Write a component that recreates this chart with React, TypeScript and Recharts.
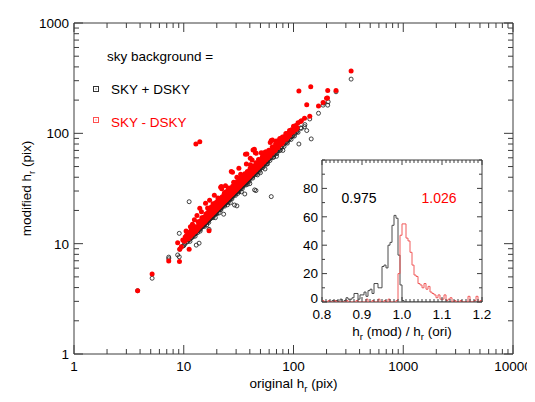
import React from 'react';
import { ScatterChart, Scatter, XAxis, YAxis, ReferenceArea, LineChart, Line } from 'recharts';

const FONT = '"Liberation Sans", Arial, Helvetica, sans-serif';
const AXIS_COLOR = '#3c3c3c';
const RED = '#ff0000';

// ---------- main panel axes ----------
const xMajorTicks = [1, 10, 100, 1000, 10000];
const xMinorTicks = [2, 3, 4, 5, 6, 7, 8, 9, 20, 30, 40, 50, 60, 70, 80, 90, 200, 300, 400, 500, 600, 700, 800, 900, 2000, 3000, 4000, 5000, 6000, 7000, 8000, 9000];
const yMajorTicks = [1, 10, 100, 1000];
const yMinorTicks = [2, 3, 4, 5, 6, 7, 8, 9, 20, 30, 40, 50, 60, 70, 80, 90, 200, 300, 400, 500, 600, 700, 800, 900];

// ---------- scatter data: [original h_r, modified h_r] ----------
// sky background = SKY + DSKY (open black circles)
const skyPlusPoints: [number, number][] = [
  [3.8, 3.75], [5.15, 4.86], [7.3, 7.55], [7.3, 7.3], [9.1, 7.6], [8.8, 7.9], [9.1, 12.4], [9.2, 8.9],
  [11.2, 24.0], [13.0, 9.7], [13.8, 10.1], [17.0, 13.5], [19.4, 17.2], [23.1, 18.5], [26.6, 23.5],
  [29.0, 22.4], [30.5, 22.0], [36.0, 28.2], [44.2, 30.7], [45.5, 30.3], [62.7, 26.7], [33.5, 29.5],
  [40.0, 35.0], [50.0, 44.0], [55.0, 47.5], [70.0, 62.0], [80.0, 70.0], [97.6, 94.7], [112, 80],
  [145, 89], [126, 115], [127, 120], [132, 106], [107, 107], [169, 152], [205, 180], [207, 193],
  [188, 188], [116, 112], [106, 103], [96, 93.5], [89, 86.5], [86, 83.8], [140.7, 135], [186, 180],
  [244, 238], [335, 310], [10.0, 9.6], [9.8, 9.5], [16.2, 14.8], [21.0, 19.0], [25.0, 22.5],
  [31.0, 28.5], [38.0, 34.5], [47.0, 42.0], [58.0, 53.0], [66.0, 61.0], [75.0, 70.0],
  [11.4, 10.5], [12.7, 11.7], [14.1, 13.0], [15.4, 14.3], [16.9, 15.6], [18.5, 17.2], [20.1, 18.7],
  [21.8, 20.3], [23.6, 21.9], [25.5, 23.7], [27.5, 25.5], [29.6, 27.4], [31.8, 29.6], [34.2, 31.6],
  [36.8, 34.0], [39.5, 36.7], [42.5, 39.3], [45.7, 42.5], [49.0, 45.3], [52.7, 49.0], [56.7, 52.5],
  [61.0, 56.7], [65.5, 60.6], [70.5, 65.5], [76.0, 70.5], [82.0, 76.0], [88.0, 81.5], [95.0, 88.0],
  [102, 94.5], [110, 102], [118, 111],
  [10.2, 9.9], [10.5, 10.3], [10.8, 10.4], [11.0, 10.8], [11.3, 10.9], [11.5, 11.2], [11.8, 11.3],
  [12.0, 11.8], [12.2, 11.6], [12.4, 12.1], [12.6, 12.3], [12.8, 12.3], [13.0, 12.7], [13.2, 12.9],
  [13.4, 12.6], [13.6, 13.3], [13.8, 13.4], [14.0, 13.7], [14.2, 13.5], [14.4, 14.0], [14.5, 14.2],
  [14.7, 14.3], [14.8, 14.5], [14.9, 14.4], [15.0, 14.7], [15.1, 14.8], [15.2, 14.6], [15.3, 15.0],
  [15.5, 15.1], [15.6, 15.3], [15.7, 15.2], [15.8, 15.5], [16.0, 15.5], [16.1, 15.8], [16.2, 15.7],
  [16.3, 16.0], [16.5, 16.1], [16.6, 15.9], [16.7, 16.3], [16.8, 16.5], [17.0, 16.6], [17.1, 16.7],
  [17.2, 16.9], [17.4, 17.0], [17.5, 16.8], [17.6, 17.2], [17.8, 17.4], [17.9, 17.5], [18.0, 17.6],
  [18.2, 17.8], [18.3, 17.6], [18.4, 18.0], [18.6, 18.2], [18.7, 18.3], [18.8, 18.1], [19.0, 18.6],
  [19.1, 18.7], [19.2, 18.5], [19.3, 18.9], [19.4, 19.0], [19.6, 19.2], [19.7, 19.3], [19.8, 19.0],
  [19.9, 19.5], [20.0, 19.6], [20.2, 19.8], [20.4, 19.9], [20.5, 20.1], [20.7, 20.2], [20.9, 20.4],
  [21.0, 20.6], [21.2, 20.7], [21.4, 20.6], [21.5, 21.1], [21.7, 21.2], [21.9, 21.4], [22.0, 21.6],
  [22.2, 21.3], [22.4, 21.9], [22.5, 22.0], [22.7, 22.2], [22.9, 22.4], [23.0, 22.5], [23.2, 22.3],
  [23.4, 22.9], [23.5, 23.0], [23.7, 23.2], [23.9, 23.4], [24.0, 23.5], [24.2, 23.2], [24.4, 23.9],
  [24.6, 24.1], [24.8, 24.3], [25.0, 24.4], [25.2, 24.7], [25.4, 24.4], [25.6, 25.0], [25.8, 25.3],
  [26.0, 25.4], [26.2, 25.7], [26.4, 25.3], [26.6, 26.0], [26.8, 26.3], [27.0, 26.4], [27.2, 26.7],
  [27.4, 26.3], [27.6, 27.0], [27.8, 27.2], [28.0, 27.4], [28.2, 27.6], [28.4, 27.3], [28.6, 28.0],
  [28.8, 28.2], [29.0, 28.4], [29.2, 28.6], [29.4, 28.2], [29.6, 29.0], [29.8, 29.2], [30.0, 29.4],
  [30.3, 29.7], [30.6, 29.9], [30.9, 30.3], [31.2, 30.0], [31.5, 30.8], [31.8, 31.1], [32.1, 31.4],
  [32.4, 31.1], [32.7, 32.0], [33.0, 32.3], [33.3, 32.6], [33.6, 32.3], [33.9, 33.2], [34.2, 33.5],
  [34.5, 33.1], [34.8, 34.1], [35.1, 34.4], [35.4, 34.0], [35.7, 35.0], [36.0, 35.3], [36.3, 35.6],
  [36.6, 35.1], [36.9, 36.2], [37.2, 36.5], [37.5, 36.8], [37.8, 36.3], [38.1, 37.3], [38.4, 37.6],
  [38.7, 37.9], [39.0, 37.4], [39.3, 38.5], [39.6, 38.8], [39.9, 39.1], [40.4, 39.6], [41.0, 40.2],
  [41.6, 40.0], [42.2, 41.4], [42.8, 41.9], [43.4, 41.7], [44.0, 43.1], [44.6, 43.7], [45.2, 43.4],
  [45.8, 44.9], [46.4, 45.5], [47.0, 45.1], [47.6, 46.6], [48.2, 47.2], [48.8, 46.8], [49.4, 48.4],
  [50.0, 49.0], [50.8, 48.8], [51.6, 50.6], [52.4, 51.4], [53.2, 51.1], [54.0, 52.9], [54.8, 53.7],
  [55.6, 53.4], [56.4, 55.3], [57.2, 56.1], [58.0, 55.7], [58.8, 57.6], [59.6, 58.4], [61.0, 59.8],
  [62.5, 60.0], [64.0, 62.7], [65.5, 64.2], [67.0, 64.3], [68.5, 67.1], [70.0, 68.6], [72.0, 69.1],
  [74.0, 72.5], [76.0, 74.5], [78.0, 74.9], [80.0, 78.4], [83.0, 81.3], [86.0, 82.6], [89.0, 87.2],
  [92.0, 89.2], [95.0, 93.1], [99.0, 95.0], [103, 100], [108, 104],
];

// sky background = SKY - DSKY (filled red circles)
const skyMinusPoints: [number, number][] = [
  [3.8, 3.75], [5.15, 5.31], [7.3, 6.97], [9.14, 6.9], [8.8, 10.2], [9.5, 9.4], [9.2, 8.9], [11.2, 8.9],
  [12.9, 80.2], [14.0, 84.1], [17.0, 13.1], [335, 368], [112, 242], [143.6, 265], [205, 244], [244, 244],
  [132, 182], [169, 177], [186, 190], [204, 209], [200, 208], [140.7, 143], [126, 137], [116, 128],
  [106, 109], [107, 111], [96, 103.6], [89, 96.7], [86, 98], [62.7, 85.9], [69.5, 85], [61.4, 82.4],
  [64.2, 87.1], [44, 71.6], [42.8, 70.7], [44.9, 66.8], [45.7, 65.9], [40.4, 59.5], [36.5, 64.6],
  [37.6, 65], [37.2, 52.8], [40.4, 52.0], [42, 57.4], [50.8, 66.8], [53.8, 66.8], [27.1, 45],
  [27.8, 44.4], [31.8, 48.2], [15.8, 23.2], [14, 20.9], [21.7, 32.5], [22.2, 31.5], [22, 33],
  [12.5, 16.5], [13.2, 18.0], [14.5, 19.5], [16.5, 21.0], [17.2, 24.8], [18.5, 23.0], [19.0, 27.5],
  [20.5, 26.0], [23.5, 29.0], [24.0, 33.5], [25.5, 32.0], [28.5, 36.0], [30.5, 40.0], [33.0, 42.5],
  [48, 58], [56, 68], [75, 90], [10.5, 13.0], [11.5, 14.2], [12.0, 15.0], [9.8, 10.8], [10.0, 10.6],
  [10.3, 11.5], [17.5, 20.5], [19.5, 23.5], [21.0, 25.5], [24.5, 29.5], [26.0, 31.5], [29.0, 34.5],
  [32.5, 38.5], [35.0, 41.0], [38.0, 44.5], [46, 53], [52, 60], [58, 66], [66, 75], [72, 81],
  [80, 90], [90, 100],
  [10.6, 11.9], [11.1, 12.6], [11.7, 13.4], [12.3, 14.3], [12.9, 14.2], [13.5, 15.8], [14.1, 16.0],
  [14.6, 17.2], [15.2, 17.4], [15.9, 18.6], [16.4, 18.9], [16.9, 20.2], [17.3, 19.6], [17.8, 21.5],
  [18.1, 20.5], [18.5, 21.9], [18.9, 21.3], [19.5, 22.8], [19.9, 22.3], [20.3, 24.2], [20.8, 23.5],
  [21.3, 25.6], [21.8, 24.6], [22.3, 26.5], [22.8, 25.8], [23.3, 28.0], [23.8, 26.9], [24.3, 29.4],
  [24.9, 28.1], [25.5, 30.6], [26.1, 29.5], [26.7, 32.0], [27.3, 30.9], [27.9, 33.2], [28.6, 32.3],
  [29.3, 35.0], [30.0, 33.9], [30.8, 36.6], [31.6, 35.7], [32.4, 38.9], [33.2, 37.5], [34.1, 40.6],
  [35.0, 39.5], [36.0, 43.0], [37.0, 41.8], [38.0, 45.2], [39.1, 44.2], [40.2, 47.9], [41.5, 46.9],
  [42.8, 50.5], [44.0, 49.7], [45.5, 54.0], [47.0, 53.1], [48.6, 57.4], [50.2, 56.7], [52.0, 61.2],
  [53.8, 60.8], [55.7, 65.5], [57.6, 65.1], [59.6, 70.3], [61.7, 69.7], [64.0, 75.0], [66.3, 74.9],
  [68.7, 80.4], [71.2, 80.5], [73.8, 86.3], [76.5, 86.4], [79.3, 92.8], [82.2, 92.9], [85.2, 99.5],
  [88.3, 99.8], [92, 106], [96, 108], [100, 116], [105, 118], [110, 125], [118, 130],
  [10.2, 10.5], [10.5, 10.9], [10.8, 11.3], [11.0, 11.1], [11.3, 11.8], [11.5, 11.7], [11.8, 12.4],
  [12.0, 12.2], [12.2, 13.3], [12.4, 12.7], [12.6, 13.1], [12.8, 12.9], [13.0, 13.5], [13.2, 13.4],
  [13.4, 14.2], [13.6, 13.9], [13.8, 14.9], [14.0, 14.3], [14.2, 14.6], [14.4, 15.4], [14.5, 14.8],
  [14.7, 15.2], [14.8, 16.0], [14.9, 15.3], [15.0, 15.4], [15.1, 15.5], [15.2, 16.1], [15.3, 15.7],
  [15.5, 15.9], [15.6, 16.7], [15.7, 16.0], [15.8, 16.3], [16.0, 17.0], [16.1, 16.5], [16.2, 16.8],
  [16.3, 17.9], [16.5, 16.9], [16.6, 17.1], [16.7, 17.4], [16.8, 17.3], [17.0, 18.2], [17.1, 17.6],
  [17.2, 17.7], [17.4, 18.0], [17.5, 18.5], [17.6, 18.1], [17.8, 18.3], [17.9, 19.3], [18.0, 18.5],
  [18.2, 18.8], [18.3, 19.0], [18.4, 19.0], [18.6, 19.1], [18.7, 20.2], [18.8, 19.4], [19.0, 19.5],
  [19.1, 19.8], [19.2, 19.9], [19.3, 21.0], [19.4, 20.0], [19.6, 20.2], [19.7, 20.6], [19.8, 20.4],
  [19.9, 20.5], [20.0, 21.2], [20.2, 20.8], [20.4, 21.0], [20.5, 21.6], [20.7, 21.3], [20.9, 21.5],
  [21.0, 22.5], [21.2, 21.8], [21.4, 22.0], [21.5, 22.2], [21.7, 23.0], [21.9, 22.6], [22.0, 22.7],
  [22.2, 23.5], [22.4, 23.1], [22.5, 23.3], [22.7, 24.6], [22.9, 23.6], [23.0, 23.7], [23.2, 24.2],
  [23.4, 24.1], [23.5, 24.4], [23.7, 25.6], [23.9, 24.6], [24.0, 24.8], [24.2, 25.1], [24.4, 25.2],
  [24.6, 25.3], [24.8, 26.3], [25.0, 25.8], [25.2, 26.0], [25.4, 26.4], [25.6, 26.4], [25.8, 27.9],
  [26.0, 26.8], [26.2, 27.0], [26.4, 27.4], [26.6, 27.4], [26.8, 28.4], [27.0, 27.8], [27.2, 28.0],
  [27.4, 28.5], [27.6, 28.4], [27.8, 30.0], [28.0, 28.8], [28.2, 29.1], [28.4, 29.4], [28.6, 29.5],
  [28.8, 31.1], [29.0, 29.9], [29.2, 30.1], [29.4, 30.4], [29.6, 30.5], [29.8, 31.6], [30.0, 30.9],
  [30.3, 31.2], [30.6, 31.5], [30.9, 32.7], [31.2, 32.1], [31.5, 32.4], [31.8, 33.3], [32.1, 33.0],
  [32.4, 33.4], [32.7, 34.7], [33.0, 34.0], [33.3, 34.3], [33.6, 35.3], [33.9, 34.9], [34.2, 35.2],
  [34.5, 36.6], [34.8, 35.8], [35.1, 36.2], [35.4, 36.8], [35.7, 36.8], [36.0, 38.2], [36.3, 37.4],
  [36.6, 37.7], [36.9, 38.4], [37.2, 39.5], [37.5, 38.6], [37.8, 39.3], [38.1, 39.2], [38.4, 40.7],
  [38.7, 39.9], [39.0, 40.2], [39.3, 40.5], [39.6, 42.0], [39.9, 41.1], [40.4, 41.6], [41.0, 43.5],
  [41.6, 42.8], [42.2, 43.5], [42.8, 45.4], [43.4, 44.7], [44.0, 45.3], [44.6, 47.3], [45.2, 46.6],
  [45.8, 47.2], [46.4, 49.2], [47.0, 48.4], [47.6, 49.0], [48.2, 51.1], [48.8, 50.3], [49.4, 50.9],
  [50.0, 53.0], [50.8, 52.3], [51.6, 53.1], [52.4, 55.5], [53.2, 54.8], [54.0, 55.6], [54.8, 58.1],
  [55.6, 57.3], [56.4, 58.1], [57.2, 60.6], [58.0, 59.7], [58.8, 60.6], [59.6, 63.2], [61.0, 62.8],
  [62.5, 66.3], [64.0, 65.9], [65.5, 69.4], [67.0, 69.0], [68.5, 70.6], [70.0, 74.2], [72.0, 74.2],
  [74.0, 77.0], [76.0, 80.6], [78.0, 80.3], [80.0, 83.2], [83.0, 88.0], [86.0, 88.6], [89.0, 92.6],
  [92.0, 95.7], [95.0, 100.7], [99.0, 103.0], [103, 107], [108, 113],
];

// ---------- inset histogram of h_r(mod)/h_r(ori) ----------
const histStart = 0.8;
const histBinWidth = 0.005;
const ratioCountsPlus = [
  0, 0, 0, 0, 0, 1, 0, 1, 0, 2,
  0, 1, 3, 2, 2, 3, 6, 6, 2, 5,
  5, 7, 4, 8, 9, 6, 13, 13, 10, 10,
  25, 26, 24, 40, 42, 54, 61, 59, 33, 12,
  1, 0, 0, 0, 0, 0, 0, 0, 0, 0,
  0, 0, 0, 0, 0, 0, 0, 0, 0, 0,
  0, 0, 0, 0, 0, 0, 0, 0, 0, 0,
  0, 0, 0, 0, 0, 0, 0, 0, 0, 0,
];
const ratioCountsMinus = [
  1, 0, 0, 1, 0, 0, 1, 0, 0, 0,
  0, 0, 1, 0, 0, 0, 0, 1, 0, 0,
  0, 0, 2, 0, 0, 1, 0, 0, 2, 0,
  0, 1, 0, 2, 0, 0, 0, 1, 20, 47,
  55, 55, 45, 43, 35, 26, 19, 18, 13, 12,
  10, 13, 9, 11, 7, 6, 5, 3, 5, 2,
  2, 5, 1, 2, 3, 0, 1, 0, 0, 1,
  0, 0, 0, 4, 0, 0, 1, 4, 0, 1,
];
const insetXMajor = [0.8, 0.9, 1.0, 1.1, 1.2];
const insetYTicks = [0, 10, 20, 30, 40, 50, 60, 70, 80, 90, 100];
const insetYLabels = [0, 20, 40, 60, 80];
const meanPlusLabel = '0.975';
const meanMinusLabel = '1.026';

// ---------- layout ----------
const MAIN_W = 439; // plot width  (74 .. 513)
const MAIN_H = 331; // plot height (23 .. 354)
const INSET_W = 160;
const INSET_H = 142;

const plusData = skyPlusPoints.map(([x, y]) => ({ x, y }));
const minusData = skyMinusPoints.map(([x, y]) => ({ x, y }));
const insetRows = ratioCountsPlus.map((c, i) => ({
  r: +(histStart + i * histBinWidth).toFixed(3),
  plus: c,
  minus: ratioCountsMinus[i],
}));
insetRows.push({ r: 1.2, plus: ratioCountsPlus[ratioCountsPlus.length - 1], minus: ratioCountsMinus[ratioCountsMinus.length - 1] });
const insetXTicks = Array.from({ length: 41 }, (_, i) => +(0.8 + i * 0.01).toFixed(2));

const textStyle = { fontFamily: FONT, fontSize: 13.5, fill: '#000' };

function MainXTick(props: any) {
  const { x, y, payload } = props;
  const v = payload.value;
  const major = xMajorTicks.includes(v);
  const len = major ? 9 : 5;
  return (
    <g>
      <line x1={x} x2={x} y1={y} y2={y - len} stroke={AXIS_COLOR} strokeWidth={1} />
      <line x1={x} x2={x} y1={y - MAIN_H} y2={y - MAIN_H + len} stroke={AXIS_COLOR} strokeWidth={1} />
      {major && (
        <text x={x} y={y + 17} textAnchor="middle" {...textStyle}>{v}</text>
      )}
    </g>
  );
}

function MainYTick(props: any) {
  const { x, y, payload } = props;
  const v = payload.value;
  const major = yMajorTicks.includes(v);
  const len = major ? 9 : 5;
  return (
    <g>
      <line x1={x} x2={x + len} y1={y} y2={y} stroke={AXIS_COLOR} strokeWidth={1} />
      <line x1={x + MAIN_W} x2={x + MAIN_W - len} y1={y} y2={y} stroke={AXIS_COLOR} strokeWidth={1} />
      {major && (
        <text x={x - 5} y={y} dy="0.36em" textAnchor="end" {...textStyle}>{v}</text>
      )}
    </g>
  );
}

function InsetXTick(props: any) {
  const { x, y, payload } = props;
  const v = payload.value;
  const major = insetXMajor.some((m) => Math.abs(m - v) < 1e-6);
  const len = major ? 5 : 3;
  return (
    <g>
      <line x1={x} x2={x} y1={y} y2={y - len} stroke={AXIS_COLOR} strokeWidth={1} />
      <line x1={x} x2={x} y1={y - INSET_H} y2={y - INSET_H + len} stroke={AXIS_COLOR} strokeWidth={1} />
      {major && (
        <text x={x} y={y + 17} textAnchor="middle" {...textStyle}>{v.toFixed(1)}</text>
      )}
    </g>
  );
}

function InsetYTick(props: any) {
  const { x, y, payload } = props;
  const v = payload.value;
  const labelled = insetYLabels.includes(v);
  const len = labelled ? 5 : 3;
  return (
    <g>
      <line x1={x} x2={x + len} y1={y} y2={y} stroke={AXIS_COLOR} strokeWidth={1} />
      <line x1={x + INSET_W} x2={x + INSET_W - len} y1={y} y2={y} stroke={AXIS_COLOR} strokeWidth={1} />
      {labelled && (
        <text x={x - 4} y={v === 0 ? y - 4 : y} dy="0.36em" textAnchor="end" {...textStyle}>{v}</text>
      )}
    </g>
  );
}

const openCircle = (p: any) => (
  <circle cx={p.cx} cy={p.cy} r={2.0} fill="none" stroke="#222" strokeWidth={0.85} />
);
const filledCircle = (p: any) => <circle cx={p.cx} cy={p.cy} r={2.5} fill={RED} stroke="none" />;

function LegendSquare({ x, y, color }: { x: number; y: number; color: string }) {
  return (
    <g>
      <rect x={x - 2.5} y={y - 2.5} width={5} height={5} fill="none" stroke={color} strokeWidth={1} />
      <rect x={x - 0.5} y={y - 0.5} width={1} height={1} fill={color} />
    </g>
  );
}

export default function App() {
  return (
    <div style={{ position: 'relative', width: 535, height: 402, margin: -8, background: '#fff', overflow: 'visible' }}>
      <ScatterChart width={535} height={402} margin={{ top: 23, right: 22, bottom: 0, left: 0 }} style={{ overflow: 'visible' }}>
        <XAxis
          dataKey="x"
          type="number"
          scale="log"
          domain={[1, 10000]}
          allowDataOverflow
          ticks={[...xMajorTicks, ...xMinorTicks].sort((a, b) => a - b)}
          interval={0}
          tickSize={0}
          tickMargin={0}
          tickLine={false}
          axisLine={false}
          height={48}
          tick={MainXTick}
        />
        <YAxis
          dataKey="y"
          type="number"
          scale="log"
          domain={[1, 1000]}
          allowDataOverflow
          ticks={[...yMajorTicks, ...yMinorTicks].sort((a, b) => a - b)}
          interval={0}
          tickSize={0}
          tickMargin={0}
          tickLine={false}
          axisLine={false}
          width={74}
          tick={MainYTick}
        />
        <ReferenceArea x1={1} x2={10000} y1={1} y2={1000} fill="none" fillOpacity={0} stroke={AXIS_COLOR} strokeWidth={1} />
        <Scatter name="SKY + DSKY" data={plusData} shape={openCircle} isAnimationActive={false} />
        <Scatter name="SKY - DSKY" data={minusData} shape={filledCircle} isAnimationActive={false} />
      </ScatterChart>

      <div style={{ position: 'absolute', left: 280, top: 150 }}>
        <LineChart width={215} height={195} data={insetRows} margin={{ top: 10, right: 13, bottom: 0, left: 0 }}>
          <XAxis
            dataKey="r"
            type="number"
            domain={[0.8, 1.2]}
            allowDataOverflow
            ticks={insetXTicks}
            interval={0}
            tickSize={0}
            tickMargin={0}
            tickLine={false}
            axisLine={false}
            height={43}
            tick={InsetXTick}
          />
          <YAxis
            type="number"
            domain={[0, 100]}
            allowDataOverflow
            ticks={insetYTicks}
            interval={0}
            tickSize={0}
            tickMargin={0}
            tickLine={false}
            axisLine={false}
            width={42}
            tick={InsetYTick}
          />
          <ReferenceArea x1={0.8} x2={1.2} y1={0} y2={100} fill="none" fillOpacity={0} stroke={AXIS_COLOR} strokeWidth={1} />
          <Line dataKey="plus" type="stepAfter" stroke="#4a4a4a" strokeWidth={1} dot={false} isAnimationActive={false} />
          <Line dataKey="minus" type="stepAfter" stroke="#f05a5a" strokeWidth={1} dot={false} isAnimationActive={false} />
        </LineChart>
      </div>

      <svg width={535} height={402} style={{ position: 'absolute', left: 0, top: 0, pointerEvents: 'none' }}>
        {/* axis titles */}
        <text x={293.5} y={388} textAnchor="middle" {...textStyle}>
          original h<tspan fontSize={9.5} dy={4}>r</tspan><tspan dy={-4}> (pix)</tspan>
        </text>
        <text x={0} y={0} textAnchor="middle" transform="translate(31 188.5) rotate(-90)" {...textStyle}>
          modified h<tspan fontSize={9.5} dy={4}>r</tspan><tspan dy={-4}> (pix)</tspan>
        </text>
        {/* legend */}
        <text x={107} y={61} {...textStyle}>sky background =</text>
        <LegendSquare x={96} y={89} color="#333" />
        <text x={111} y={94} {...textStyle}>SKY + DSKY</text>
        <LegendSquare x={96} y={120} color="#ff5050" />
        <text x={111} y={127} {...textStyle} fill={RED}>SKY - DSKY</text>
        {/* inset annotations */}
        <text x={359} y={203} textAnchor="middle" {...textStyle} fontSize={14}>{meanPlusLabel}</text>
        <text x={439} y={203} textAnchor="middle" {...textStyle} fontSize={14} fill={RED}>{meanMinusLabel}</text>
        <text x={402} y={336} textAnchor="middle" {...textStyle}>
          h<tspan fontSize={9.5} dy={4}>r</tspan><tspan dy={-4}> (mod) / h</tspan><tspan fontSize={9.5} dy={4}>r</tspan><tspan dy={-4}> (ori)</tspan>
        </text>
      </svg>
    </div>
  );
}
